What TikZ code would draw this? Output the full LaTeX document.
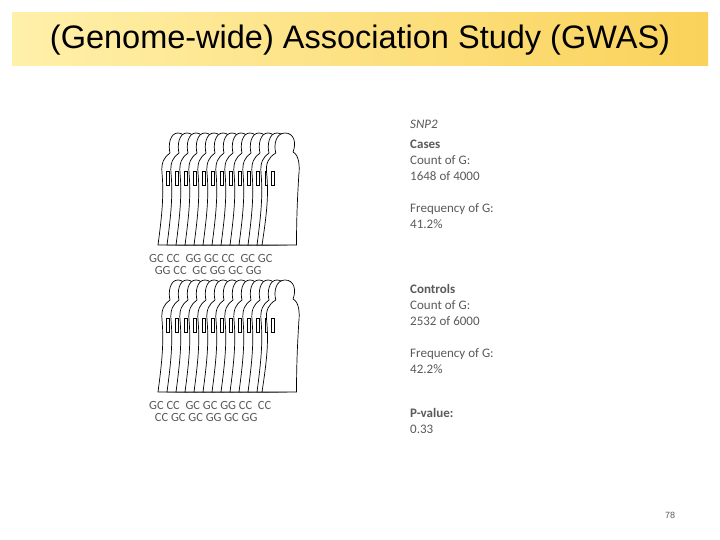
\documentclass[tikz,border=0pt]{standalone}
\usepackage{fontspec}
\setmainfont{Liberation Sans}
\newfontfamily\calfont{Carlito}
\definecolor{barlight}{RGB}{255,240,170}
\definecolor{bardark}{RGB}{250,210,90}
\definecolor{txtgray}{RGB}{90,90,90}
\tikzset{
  person/.pic={
    \draw [fill=white,line width=0.7pt] (0,0) .. controls (4,30) and (6,50) .. (4,72)
      .. controls (3,82) and (6,88) .. (12,92) .. controls (10,100) and (12,112) .. (20,112)
      .. controls (28,112) and (30,102) .. (27,93) .. controls (32,90) and (33,80) .. (32,70)
      .. controls (31,50) and (30,30) .. (30,0) -- cycle;
    \draw [line width=0.6pt] (8,60) rectangle (11,74);
  },
  infotxt/.style={font=\calfont\fontsize{13}{16}\selectfont,text=txtgray,anchor=north west,align=left,inner sep=0pt},
  gtxt/.style={font=\calfont\fontsize{12.5}{12.5}\selectfont,text=txtgray,anchor=north west,inner sep=0pt,align=left}
}
\begin{document}
\begin{tikzpicture}[x=1pt,y=-1pt]
\useasboundingbox (0,0) rectangle (720,540);
\fill [white] (0,0) rectangle (720,540);
% title bar
\shade [left color=barlight,right color=bardark] (12,13) rectangle (708,66);
\node (title) at (360,40) {\fontsize{32.5}{36}\selectfont (Genome-wide) Association Study (GWAS)};
% cases
\foreach \i in {0,...,11} {\pic at (158+9*\i,245) [yscale=-1] {person};}
\pic at (262,245) [yscale=-1,xscale=1.15] {person};
\node [gtxt] (gcases) at (149,254) {GC\ CC\ \ GG GC\ CC\ \ GC\ GC\\\ \ GG CC\ \ GC GG GC GG};
% controls
\foreach \i in {0,...,11} {\pic at (158+9*\i,392) [yscale=-1] {person};}
\pic at (262,392) [yscale=-1,xscale=1.15] {person};
\node [gtxt] (gctrl) at (149,401) {GC\ CC\ \ GC\ GC\ GG CC\ \ CC\\\ \ CC\ GC\ GC GG GC GG};
% info
\node [infotxt] (snp) at (410,120) {\itshape SNP2};
\node [infotxt] (cases) at (410,140) {\textbf{Cases}\\Count of G:\\1648 of 4000\\[16pt]Frequency of G:\\41.2\%};
\node [infotxt] (ctrl) at (410,284) {\textbf{Controls}\\Count of G:\\2532 of 6000\\[16pt]Frequency of G:\\42.2\%};
\node [infotxt] (pval) at (410,408) {\textbf{P-value:}\\0.33};
\node [font=\fontsize{9}{10}\selectfont,text=txtgray] (page) at (670,515) {78};
\end{tikzpicture}
\end{document}
